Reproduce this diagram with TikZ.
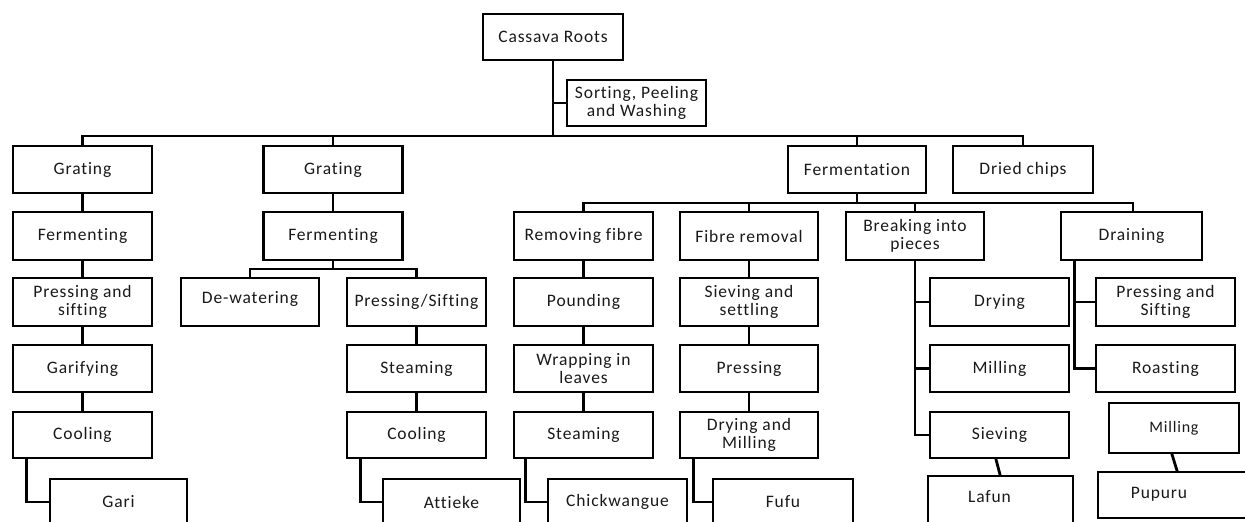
\documentclass[tikz,border=0pt]{standalone}
\usepackage{fontspec}
\setmainfont[LetterSpace=5,Ligatures=NoCommon]{Carlito}
\usetikzlibrary{calc}
\begin{document}
\begin{tikzpicture}[x=1pt,y=-1pt,
  box/.style={draw=black,line width=2.8pt,fill=white,minimum width=139pt,minimum height=47pt,inner sep=1pt,align=center,text=black!90,font=\fontsize{17.5}{17.5}\selectfont},
  ln/.style={line width=2.8pt,line cap=rect}]
\useasboundingbox (0,0) rectangle (1245,522);
\clip (0,0) rectangle (1245,522);
% top
\node[box,minimum width=140pt,minimum height=46pt] (root) at (553,37) {Cassava Roots};
\node[box,minimum height=46pt] (sort) at (636.5,103) {Sorting, Peeling\\and Washing};
% row 1
\node[box] (g1) at (82.5,169.5) {Grating};
\node[box] (g2) at (333,169.5) {Grating};
\node[box,minimum width=138pt] (ferm) at (857,169.5) {Fermentation};
\node[box,minimum width=140pt] (dried) at (1023,169.5) {Dried chips};
% row 2
\node[box,minimum height=48pt] (f1) at (82.5,236) {Fermenting};
\node[box,minimum height=48pt] (f2) at (333,236) {Fermenting};
\node[box,minimum height=48pt] (rf) at (583.5,236) {Removing fibre};
\node[box,minimum height=48pt,minimum width=138pt] (fr) at (749,236) {Fibre removal};
\node[box,minimum height=48pt,minimum width=138pt] (brk) at (915,236) {Breaking into\\pieces};
\node[box,minimum height=48pt,minimum width=141pt] (drn) at (1131.5,236) {Draining};
% row 3
\node[box,minimum height=48pt] (ps1) at (82.5,302) {Pressing and\\sifting};
\node[box,minimum height=48pt,minimum width=138pt] (dew) at (250,302) {\raisebox{9pt}{De-watering}};
\node[box,minimum height=48pt] (psf) at (416.5,302) {Pressing/Sifting};
\node[box,minimum height=48pt] (pound) at (583.5,302) {Pounding};
\node[box,minimum height=48pt,minimum width=138pt] (ss) at (749,302) {Sieving and\\settling};
\node[box,minimum height=48pt] (dry) at (999.5,302) {Drying};
\node[box,minimum height=48pt] (pas) at (1165.5,302) {Pressing and\\Sifting};
% row 4
\node[box] (garif) at (82.5,368.5) {Garifying};
\node[box] (st1) at (416.5,368.5) {Steaming};
\node[box] (wrap) at (583.5,368.5) {Wrapping in\\leaves};
\node[box,minimum width=138pt] (press) at (749,368.5) {Pressing};
\node[box] (mill1) at (999.5,368.5) {Milling};
\node[box] (roast) at (1165.5,368.5) {Roasting};
% row 5
\node[box,minimum height=46pt] (cool1) at (82.5,435) {Cooling};
\node[box,minimum height=46pt] (cool2) at (416.5,435) {Cooling};
\node[box,minimum height=46pt] (st2) at (583.5,435) {Steaming};
\node[box,minimum height=46pt,minimum width=138pt] (dm) at (749,435) {Drying and\\Milling};
\node[box,minimum height=46pt] (siev) at (999.5,435) {Sieving};
\node[box,minimum height=50pt,minimum width=130pt,font=\fontsize{16}{16}\selectfont] (mill2) at (1174,428) {Milling};
% row 6
\node[box,minimum height=46pt,minimum width=137pt] (gari) at (118.5,502) {Gari};
\node[box,minimum height=46pt,minimum width=137pt] (att) at (451.5,502) {Attieke};
\node[box,minimum height=46pt,minimum width=139pt] (chick) at (617.5,502) {Chickwangue};
\node[box,minimum height=46pt,minimum width=140pt] (fufu) at (783,502) {Fufu};
\node[box,minimum height=50pt,minimum width=145pt] (lafun) at (1000.5,501) {\raisebox{9pt}{Lafun\hspace{22pt}}};
\node[box,minimum height=46pt,minimum width=156pt] (pup) at (1176,495) {\raisebox{4pt}{Pupuru\hspace{34pt}}};
% main bus
\coordinate (busL) at (82.5,136);
\coordinate (busR) at (1023,136);
\draw[ln] (busL) -- (busR);
\draw[ln] (root.south) -- (root.south |- busL);
\draw[ln] (root.south |- sort.west) -- (sort.west);
\foreach \n in {g1,g2,ferm,dried} \draw[ln] (\n.north) -- (\n.north |- busL);
% chains
\draw[ln] (g1.south) -- (f1.north);
\draw[ln] (f1.south) -- (ps1.north);
\draw[ln] (ps1.south) -- (garif.north);
\draw[ln] (garif.south) -- (cool1.north);
\draw[ln] ($(cool1.south west)+(15,0)$) |- (gari.west);
\draw[ln] (g2.south) -- (f2.north);
% fermenting 2 sub-bus
\coordinate (bus2) at (333,269);
\draw[ln] (f2.south) -- (bus2);
\draw[ln] (dew.north) -- (dew.north |- bus2) -- (psf.north |- bus2) -- (psf.north);
\draw[ln] (psf.south) -- (st1.north);
\draw[ln] (st1.south) -- (cool2.north);
\draw[ln] ($(cool2.south west)+(15,0)$) |- (att.west);
% fermentation sub-bus
\coordinate (bus3) at (857,203);
\coordinate (drnT) at ($(drn.north)+(1.5,0)$);
\draw[ln] (ferm.south) -- (bus3);
\draw[ln] (rf.north) -- (rf.north |- bus3) -- (drnT |- bus3) -- (drnT);
\draw[ln] (fr.north) -- (fr.north |- bus3);
\draw[ln] (brk.north) -- (brk.north |- bus3);
\draw[ln] (rf.south) -- (pound.north);
\draw[ln] (pound.south) -- (wrap.north);
\draw[ln] (wrap.south) -- (st2.north);
\draw[ln] ($(st2.south west)+(13,0)$) |- (chick.west);
\draw[ln] (fr.south) -- (ss.north);
\draw[ln] (ss.south) -- (press.north);
\draw[ln] (press.south) -- (dm.north);
\draw[ln] ($(dm.south west)+(15,0)$) |- (fufu.west);
% breaking branch
\draw[ln] (brk.south) -- (brk.south |- siev.west) -- (siev.west);
\draw[ln] (brk.south |- dry.west) -- (dry.west);
\draw[ln] (brk.south |- mill1.west) -- (mill1.west);
\draw[ln] ($(siev.south)+(-3.5,0)$) -- ($(lafun.north)+(-0.5,0)$);
% draining branch
\coordinate (drnB) at ($(drn.south west)+(15,0)$);
\draw[ln] (drnB) |- (roast.west);
\draw[ln] (drnB |- pas.west) -- (pas.west);
\draw[ln] ($(mill2.south)+(-2,0)$) -- ($(pup.north)+(1,0)$);
\end{tikzpicture}
\end{document}
